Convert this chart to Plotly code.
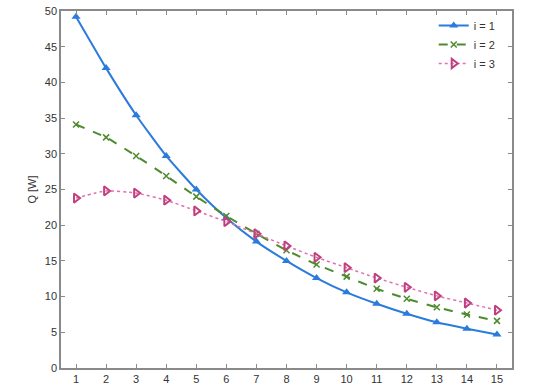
import plotly.graph_objects as go

x = list(range(1, 16))
q1 = [49.2, 42.0, 35.4, 29.7, 25.0, 21.0, 17.7, 15.0, 12.6, 10.6, 9.0, 7.6, 6.4, 5.5, 4.7]
q2 = [34.1, 32.3, 29.7, 26.9, 24.0, 21.3, 18.8, 16.5, 14.5, 12.8, 11.1, 9.7, 8.5, 7.5, 6.6]
q3 = [23.8, 24.8, 24.5, 23.5, 22.0, 20.5, 18.8, 17.1, 15.5, 14.05, 12.6, 11.3, 10.1, 9.1, 8.1]
names = ["i = 1", "i = 2", "i = 3"]
yticks = list(range(0, 55, 5))

fig = go.Figure()
fig.add_trace(go.Scatter(x=x, y=q1, name=names[0], mode="lines+markers",
                         line=dict(color="#2b7bdc", width=2, dash="solid", shape="spline", smoothing=0.5),
                         marker=dict(symbol="triangle-up", size=8, color="#2b7bdc")))
fig.add_trace(go.Scatter(x=x, y=q2, name=names[1], mode="lines+markers",
                         line=dict(color="#4e8a2e", width=2, dash="dash", shape="spline", smoothing=0.5),
                         marker=dict(symbol="x-thin", size=6, color="#4e8a2e", line=dict(color="#4e8a2e", width=1.5))))
fig.add_trace(go.Scatter(x=x, y=q3, name=names[2], mode="lines+markers",
                         line=dict(color="#e070b0", width=1.5, dash="dot", shape="spline", smoothing=0.5),
                         marker=dict(symbol="triangle-right-open", size=8, color="#c0407f",
                                     line=dict(color="#c0407f", width=2))))

font = dict(family="Liberation Sans, Arial", size=11, color="#333333")
axis_common = dict(showline=True, linecolor="#8a8a8a", linewidth=1.5, mirror="ticks",
                   ticks="inside", ticklen=4, tickcolor="#8a8a8a", showgrid=False, zeroline=False,
                   tickfont=font, automargin=False)

fig.update_layout(
    width=533, height=388,
    margin=dict(l=61, r=21, t=11, b=20),
    paper_bgcolor="white", plot_bgcolor="white",
    showlegend=True,
    legend=dict(x=0.975, y=1.0, xanchor="right", yanchor="top", bgcolor="rgba(0,0,0,0)",
                font=dict(family="Liberation Sans, Arial", size=11, color="#333333"),
                itemwidth=30, tracegroupgap=0),
    xaxis=dict(range=[0.5, 15.5], tickvals=x, **axis_common),
    yaxis=dict(range=[0, 50], tickvals=yticks, **axis_common,
               title=dict(text="Q [W]", font=font, standoff=6)),
)

fig.write_html("out.html", config={"displayModeBar": False},
               post_script="document.body.style.margin='0';")
